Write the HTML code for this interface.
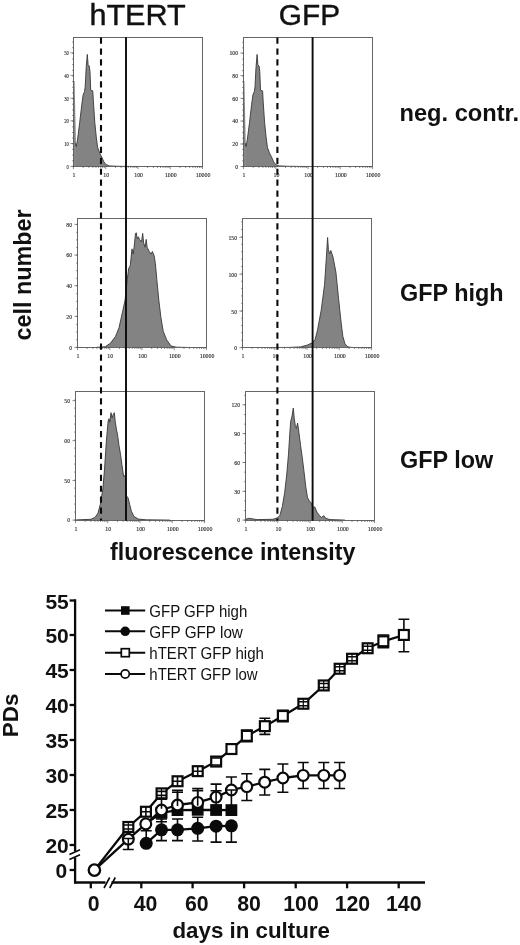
<!DOCTYPE html>
<html lang="en"><head><meta charset="utf-8"><title>Figure</title>
<style>
html,body{margin:0;padding:0;background:#fff;}
body{width:520px;height:945px;overflow:hidden;}
svg{display:block;}
.b{font-family:"Liberation Sans", Arial, Helvetica, sans-serif;font-weight:bold;fill:#111;}
.r{font-family:"Liberation Sans", Arial, Helvetica, sans-serif;font-weight:normal;fill:#111;}
.t{font-family:"Liberation Serif", "Times New Roman", serif;font-size:6.8px;fill:#222;stroke:#222;stroke-width:0.12px;}
</style></head><body>
<svg width="520" height="945" viewBox="0 0 520 945">
<rect x="0" y="0" width="520" height="945" fill="#ffffff"/>
<polygon points="74.0,166.5 74.0,81.0 74.6,81.0 75.9,143.0 75.9,166.5" fill="#858585" stroke="none"/>
<polygon points="75.4,166.5 75.4,143.2 76.3,146.6 77.6,139.0 79.7,122.5 81.8,104.6 83.1,95.0 84.5,91.6 85.2,86.8 86.2,67.5 87.3,54.4 88.1,64.8 89.3,66.1 90.0,71.6 90.7,90.2 92.8,90.9 93.4,101.9 94.8,122.5 96.2,136.3 97.6,147.3 99.6,152.8 101.7,156.9 103.8,161.7 105.8,164.5 109.3,165.9 118.0,166.3 140.0,166.5 140.0,166.5" fill="#838383" stroke="none"/>
<polyline points="75.4,143.2 76.3,146.6 77.6,139.0 79.7,122.5 81.8,104.6 83.1,95.0 84.5,91.6 85.2,86.8 86.2,67.5 87.3,54.4 88.1,64.8 89.3,66.1 90.0,71.6 90.7,90.2 92.8,90.9 93.4,101.9 94.8,122.5 96.2,136.3 97.6,147.3 99.6,152.8 101.7,156.9 103.8,161.7 105.8,164.5 109.3,165.9 118.0,166.3 140.0,166.5" fill="none" stroke="#383838" stroke-width="0.9" stroke-linejoin="round"/>
<rect x="73.5" y="37.5" width="129.0" height="129.0" fill="none" stroke="#666666" stroke-width="1"/>
<path d="M73.5 166.5v2.6M83.2 166.5v1.5M88.9 166.5v1.5M92.9 166.5v1.5M96.0 166.5v1.5M98.6 166.5v1.5M100.8 166.5v1.5M102.6 166.5v1.5M104.3 166.5v1.5M105.8 166.5v2.6M115.5 166.5v1.5M121.1 166.5v1.5M125.2 166.5v1.5M128.3 166.5v1.5M130.8 166.5v1.5M133.0 166.5v1.5M134.9 166.5v1.5M136.5 166.5v1.5M138.0 166.5v2.6M147.7 166.5v1.5M153.4 166.5v1.5M157.4 166.5v1.5M160.5 166.5v1.5M163.1 166.5v1.5M165.3 166.5v1.5M167.1 166.5v1.5M168.8 166.5v1.5M170.2 166.5v2.6M180.0 166.5v1.5M185.6 166.5v1.5M189.7 166.5v1.5M192.8 166.5v1.5M195.3 166.5v1.5M197.5 166.5v1.5M199.4 166.5v1.5M201.0 166.5v1.5M202.5 166.5v2.6" stroke="#444" stroke-width="0.6" fill="none"/>
<text class="t" transform="translate(74.1 176.8) scale(0.87 1)" text-anchor="middle">1</text>
<text class="t" transform="translate(106.3 176.8) scale(0.87 1)" text-anchor="middle">10</text>
<text class="t" transform="translate(138.6 176.8) scale(0.87 1)" text-anchor="middle">100</text>
<text class="t" transform="translate(170.8 176.8) scale(0.87 1)" text-anchor="middle">1000</text>
<text class="t" transform="translate(203.1 176.8) scale(0.87 1)" text-anchor="middle">10000</text>
<text class="t" transform="translate(69.0 55.1) scale(0.70 1)" text-anchor="end">50</text>
<text class="t" transform="translate(69.0 77.7) scale(0.70 1)" text-anchor="end">40</text>
<text class="t" transform="translate(69.0 100.5) scale(0.70 1)" text-anchor="end">30</text>
<text class="t" transform="translate(69.0 123.1) scale(0.70 1)" text-anchor="end">20</text>
<text class="t" transform="translate(69.0 145.8) scale(0.70 1)" text-anchor="end">10</text>
<text class="t" transform="translate(69.0 168.7) scale(0.70 1)" text-anchor="end">0</text>
<path d="M73.5 52.8h-3.1M73.5 75.4h-3.1M73.5 98.2h-3.1M73.5 120.8h-3.1M73.5 143.5h-3.1M73.5 166.4h-3.1M73.5 166.4h-1.4M73.5 160.8h-1.4M73.5 155.1h-1.4M73.5 149.4h-1.4M73.5 143.8h-1.4M73.5 138.1h-1.4M73.5 132.5h-1.4M73.5 126.8h-1.4M73.5 121.2h-1.4M73.5 115.5h-1.4M73.5 109.9h-1.4M73.5 104.2h-1.4M73.5 98.6h-1.4M73.5 92.9h-1.4M73.5 87.3h-1.4M73.5 81.6h-1.4M73.5 76.0h-1.4M73.5 70.3h-1.4M73.5 64.7h-1.4M73.5 59.0h-1.4M73.5 53.4h-1.4M73.5 47.7h-1.4M73.5 42.1h-1.4" stroke="#444" stroke-width="0.6" fill="none"/>
<polygon points="243.8,166.5 243.8,81.0 244.4,81.0 245.7,143.0 245.7,166.5" fill="#858585" stroke="none"/>
<polygon points="245.2,166.5 245.2,143.2 246.1,146.6 247.4,139.0 249.5,122.5 251.6,104.6 252.9,95.0 254.3,91.6 255.0,86.8 256.0,67.5 257.1,54.4 257.9,64.8 259.1,66.1 259.8,71.6 260.5,90.2 262.6,90.9 263.2,101.9 264.6,122.5 266.0,136.3 267.4,147.3 269.4,152.8 271.5,156.9 273.6,161.7 275.6,164.5 279.1,165.9 287.8,166.3 309.8,166.5 309.8,166.5" fill="#838383" stroke="none"/>
<polyline points="245.2,143.2 246.1,146.6 247.4,139.0 249.5,122.5 251.6,104.6 252.9,95.0 254.3,91.6 255.0,86.8 256.0,67.5 257.1,54.4 257.9,64.8 259.1,66.1 259.8,71.6 260.5,90.2 262.6,90.9 263.2,101.9 264.6,122.5 266.0,136.3 267.4,147.3 269.4,152.8 271.5,156.9 273.6,161.7 275.6,164.5 279.1,165.9 287.8,166.3 309.8,166.5" fill="none" stroke="#383838" stroke-width="0.9" stroke-linejoin="round"/>
<rect x="243.5" y="37.5" width="129.0" height="129.0" fill="none" stroke="#666666" stroke-width="1"/>
<path d="M243.5 166.5v2.6M253.2 166.5v1.5M258.9 166.5v1.5M262.9 166.5v1.5M266.0 166.5v1.5M268.6 166.5v1.5M270.8 166.5v1.5M272.6 166.5v1.5M274.3 166.5v1.5M275.8 166.5v2.6M285.5 166.5v1.5M291.1 166.5v1.5M295.2 166.5v1.5M298.3 166.5v1.5M300.8 166.5v1.5M303.0 166.5v1.5M304.9 166.5v1.5M306.5 166.5v1.5M308.0 166.5v2.6M317.7 166.5v1.5M323.4 166.5v1.5M327.4 166.5v1.5M330.5 166.5v1.5M333.1 166.5v1.5M335.3 166.5v1.5M337.1 166.5v1.5M338.8 166.5v1.5M340.2 166.5v2.6M350.0 166.5v1.5M355.6 166.5v1.5M359.7 166.5v1.5M362.8 166.5v1.5M365.3 166.5v1.5M367.5 166.5v1.5M369.4 166.5v1.5M371.0 166.5v1.5M372.5 166.5v2.6" stroke="#444" stroke-width="0.6" fill="none"/>
<text class="t" transform="translate(244.1 176.8) scale(0.87 1)" text-anchor="middle">1</text>
<text class="t" transform="translate(276.4 176.8) scale(0.87 1)" text-anchor="middle">10</text>
<text class="t" transform="translate(308.6 176.8) scale(0.87 1)" text-anchor="middle">100</text>
<text class="t" transform="translate(340.9 176.8) scale(0.87 1)" text-anchor="middle">1000</text>
<text class="t" transform="translate(373.1 176.8) scale(0.87 1)" text-anchor="middle">10000</text>
<text class="t" transform="translate(238.1 55.3) scale(0.85 1)" text-anchor="end">100</text>
<text class="t" transform="translate(238.1 77.9) scale(0.85 1)" text-anchor="end">80</text>
<text class="t" transform="translate(238.1 100.7) scale(0.85 1)" text-anchor="end">60</text>
<text class="t" transform="translate(238.1 123.3) scale(0.85 1)" text-anchor="end">40</text>
<text class="t" transform="translate(238.1 146.3) scale(0.85 1)" text-anchor="end">20</text>
<text class="t" transform="translate(238.1 168.8) scale(0.85 1)" text-anchor="end">0</text>
<path d="M243.5 53.0h-3.1M243.5 75.6h-3.1M243.5 98.4h-3.1M243.5 121.0h-3.1M243.5 144.0h-3.1M243.5 166.5h-3.1M243.5 166.5h-1.4M243.5 160.8h-1.4M243.5 155.2h-1.4M243.5 149.5h-1.4M243.5 143.9h-1.4M243.5 138.2h-1.4M243.5 132.6h-1.4M243.5 126.9h-1.4M243.5 121.3h-1.4M243.5 115.6h-1.4M243.5 110.0h-1.4M243.5 104.3h-1.4M243.5 98.7h-1.4M243.5 93.0h-1.4M243.5 87.4h-1.4M243.5 81.7h-1.4M243.5 76.1h-1.4M243.5 70.4h-1.4M243.5 64.8h-1.4M243.5 59.1h-1.4M243.5 53.5h-1.4M243.5 47.8h-1.4M243.5 42.2h-1.4" stroke="#444" stroke-width="0.6" fill="none"/>
<polygon points="96.0,347.5 96.0,347.4 105.2,346.7 110.4,343.3 115.6,336.3 119.0,327.7 122.5,312.1 125.1,300.0 127.3,279.2 128.6,268.8 130.3,265.4 132.0,248.9 133.2,254.1 134.1,247.2 135.5,233.4 136.3,232.8 137.2,238.6 138.4,236.8 139.5,239.4 141.5,242.0 142.7,233.4 143.6,242.9 145.0,247.2 146.2,239.4 147.1,247.2 149.3,251.5 151.1,254.1 152.4,251.5 154.2,255.9 155.4,263.7 156.8,279.2 158.8,300.0 160.9,317.3 163.2,331.2 166.6,339.8 171.0,345.9 176.2,347.2 190.0,347.5 190.0,347.5" fill="#838383" stroke="none"/>
<polyline points="96.0,347.4 105.2,346.7 110.4,343.3 115.6,336.3 119.0,327.7 122.5,312.1 125.1,300.0 127.3,279.2 128.6,268.8 130.3,265.4 132.0,248.9 133.2,254.1 134.1,247.2 135.5,233.4 136.3,232.8 137.2,238.6 138.4,236.8 139.5,239.4 141.5,242.0 142.7,233.4 143.6,242.9 145.0,247.2 146.2,239.4 147.1,247.2 149.3,251.5 151.1,254.1 152.4,251.5 154.2,255.9 155.4,263.7 156.8,279.2 158.8,300.0 160.9,317.3 163.2,331.2 166.6,339.8 171.0,345.9 176.2,347.2 190.0,347.5" fill="none" stroke="#383838" stroke-width="0.9" stroke-linejoin="round"/>
<rect x="77.5" y="218.5" width="129.0" height="129.0" fill="none" stroke="#666666" stroke-width="1"/>
<path d="M77.5 347.5v2.6M87.2 347.5v1.5M92.9 347.5v1.5M96.9 347.5v1.5M100.0 347.5v1.5M102.6 347.5v1.5M104.8 347.5v1.5M106.6 347.5v1.5M108.3 347.5v1.5M109.8 347.5v2.6M119.5 347.5v1.5M125.1 347.5v1.5M129.2 347.5v1.5M132.3 347.5v1.5M134.8 347.5v1.5M137.0 347.5v1.5M138.9 347.5v1.5M140.5 347.5v1.5M142.0 347.5v2.6M151.7 347.5v1.5M157.4 347.5v1.5M161.4 347.5v1.5M164.5 347.5v1.5M167.1 347.5v1.5M169.3 347.5v1.5M171.1 347.5v1.5M172.8 347.5v1.5M174.2 347.5v2.6M184.0 347.5v1.5M189.6 347.5v1.5M193.7 347.5v1.5M196.8 347.5v1.5M199.3 347.5v1.5M201.5 347.5v1.5M203.4 347.5v1.5M205.0 347.5v1.5M206.5 347.5v2.6" stroke="#444" stroke-width="0.6" fill="none"/>
<text class="t" transform="translate(78.1 357.8) scale(0.87 1)" text-anchor="middle">1</text>
<text class="t" transform="translate(110.3 357.8) scale(0.87 1)" text-anchor="middle">10</text>
<text class="t" transform="translate(142.6 357.8) scale(0.87 1)" text-anchor="middle">100</text>
<text class="t" transform="translate(174.8 357.8) scale(0.87 1)" text-anchor="middle">1000</text>
<text class="t" transform="translate(207.1 357.8) scale(0.87 1)" text-anchor="middle">10000</text>
<text class="t" transform="translate(72.1 226.6) scale(0.85 1)" text-anchor="end">80</text>
<text class="t" transform="translate(72.1 257.3) scale(0.85 1)" text-anchor="end">60</text>
<text class="t" transform="translate(72.1 287.9) scale(0.85 1)" text-anchor="end">40</text>
<text class="t" transform="translate(72.1 318.6) scale(0.85 1)" text-anchor="end">20</text>
<text class="t" transform="translate(72.1 349.7) scale(0.85 1)" text-anchor="end">0</text>
<path d="M77.5 224.3h-3.1M77.5 255.0h-3.1M77.5 285.6h-3.1M77.5 316.3h-3.1M77.5 347.4h-3.1M77.5 347.4h-1.4M77.5 339.7h-1.4M77.5 332.0h-1.4M77.5 324.4h-1.4M77.5 316.7h-1.4M77.5 309.0h-1.4M77.5 301.3h-1.4M77.5 293.7h-1.4M77.5 286.0h-1.4M77.5 278.3h-1.4M77.5 270.6h-1.4M77.5 263.0h-1.4M77.5 255.3h-1.4M77.5 247.6h-1.4M77.5 239.9h-1.4M77.5 232.3h-1.4M77.5 224.6h-1.4" stroke="#444" stroke-width="0.6" fill="none"/>
<polygon points="270.0,347.5 270.0,347.6 290.0,347.4 300.4,346.9 307.3,345.1 312.5,342.7 315.1,339.6 317.7,329.2 321.2,310.2 324.6,284.2 326.3,258.3 327.6,237.5 328.4,249.6 329.5,253.9 330.8,250.5 332.9,256.5 335.9,272.1 338.5,298.1 341.1,322.3 342.8,336.2 345.0,343.9 348.0,346.9 352.3,347.5 365.0,347.6 365.0,347.5" fill="#838383" stroke="none"/>
<polyline points="270.0,347.6 290.0,347.4 300.4,346.9 307.3,345.1 312.5,342.7 315.1,339.6 317.7,329.2 321.2,310.2 324.6,284.2 326.3,258.3 327.6,237.5 328.4,249.6 329.5,253.9 330.8,250.5 332.9,256.5 335.9,272.1 338.5,298.1 341.1,322.3 342.8,336.2 345.0,343.9 348.0,346.9 352.3,347.5 365.0,347.6" fill="none" stroke="#383838" stroke-width="0.9" stroke-linejoin="round"/>
<rect x="242.5" y="218.5" width="129.0" height="129.0" fill="none" stroke="#666666" stroke-width="1"/>
<path d="M242.5 347.5v2.6M252.2 347.5v1.5M257.9 347.5v1.5M261.9 347.5v1.5M265.0 347.5v1.5M267.6 347.5v1.5M269.8 347.5v1.5M271.6 347.5v1.5M273.3 347.5v1.5M274.8 347.5v2.6M284.5 347.5v1.5M290.1 347.5v1.5M294.2 347.5v1.5M297.3 347.5v1.5M299.8 347.5v1.5M302.0 347.5v1.5M303.9 347.5v1.5M305.5 347.5v1.5M307.0 347.5v2.6M316.7 347.5v1.5M322.4 347.5v1.5M326.4 347.5v1.5M329.5 347.5v1.5M332.1 347.5v1.5M334.3 347.5v1.5M336.1 347.5v1.5M337.8 347.5v1.5M339.2 347.5v2.6M349.0 347.5v1.5M354.6 347.5v1.5M358.7 347.5v1.5M361.8 347.5v1.5M364.3 347.5v1.5M366.5 347.5v1.5M368.4 347.5v1.5M370.0 347.5v1.5M371.5 347.5v2.6" stroke="#444" stroke-width="0.6" fill="none"/>
<text class="t" transform="translate(243.1 357.8) scale(0.87 1)" text-anchor="middle">1</text>
<text class="t" transform="translate(275.4 357.8) scale(0.87 1)" text-anchor="middle">10</text>
<text class="t" transform="translate(307.6 357.8) scale(0.87 1)" text-anchor="middle">100</text>
<text class="t" transform="translate(339.9 357.8) scale(0.87 1)" text-anchor="middle">1000</text>
<text class="t" transform="translate(372.1 357.8) scale(0.87 1)" text-anchor="middle">10000</text>
<text class="t" transform="translate(237.1 239.6) scale(0.85 1)" text-anchor="end">150</text>
<text class="t" transform="translate(237.1 276.5) scale(0.85 1)" text-anchor="end">100</text>
<text class="t" transform="translate(237.1 313.5) scale(0.85 1)" text-anchor="end">50</text>
<text class="t" transform="translate(237.1 349.9) scale(0.85 1)" text-anchor="end">0</text>
<path d="M242.5 237.3h-3.1M242.5 274.2h-3.1M242.5 311.2h-3.1M242.5 347.6h-3.1M242.5 347.6h-1.4M242.5 340.2h-1.4M242.5 332.8h-1.4M242.5 325.5h-1.4M242.5 318.1h-1.4M242.5 310.7h-1.4M242.5 303.3h-1.4M242.5 295.9h-1.4M242.5 288.6h-1.4M242.5 281.2h-1.4M242.5 273.8h-1.4M242.5 266.4h-1.4M242.5 259.0h-1.4M242.5 251.7h-1.4M242.5 244.3h-1.4M242.5 236.9h-1.4M242.5 229.5h-1.4M242.5 222.1h-1.4" stroke="#444" stroke-width="0.6" fill="none"/>
<polygon points="76.1,520.5 76.1,519.9 90.8,519.3 95.1,517.4 98.0,513.1 100.3,504.4 102.9,488.8 104.6,468.1 106.3,442.1 108.1,421.3 108.9,418.7 109.8,422.2 111.0,412.7 112.1,417.9 113.3,414.4 114.3,412.7 115.3,422.2 116.4,429.1 117.6,435.2 119.0,445.6 120.5,454.2 121.9,464.6 123.7,476.7 125.4,475.0 126.2,495.8 128.0,497.5 129.7,504.4 131.4,511.3 134.0,516.5 138.4,519.1 146.2,519.8 170.0,520.1 170.0,520.5" fill="#838383" stroke="none"/>
<polyline points="76.1,519.9 90.8,519.3 95.1,517.4 98.0,513.1 100.3,504.4 102.9,488.8 104.6,468.1 106.3,442.1 108.1,421.3 108.9,418.7 109.8,422.2 111.0,412.7 112.1,417.9 113.3,414.4 114.3,412.7 115.3,422.2 116.4,429.1 117.6,435.2 119.0,445.6 120.5,454.2 121.9,464.6 123.7,476.7 125.4,475.0 126.2,495.8 128.0,497.5 129.7,504.4 131.4,511.3 134.0,516.5 138.4,519.1 146.2,519.8 170.0,520.1" fill="none" stroke="#383838" stroke-width="0.9" stroke-linejoin="round"/>
<rect x="75.5" y="391.5" width="129.0" height="129.0" fill="none" stroke="#666666" stroke-width="1"/>
<path d="M75.5 520.5v2.6M85.2 520.5v1.5M90.9 520.5v1.5M94.9 520.5v1.5M98.0 520.5v1.5M100.6 520.5v1.5M102.8 520.5v1.5M104.6 520.5v1.5M106.3 520.5v1.5M107.8 520.5v2.6M117.5 520.5v1.5M123.1 520.5v1.5M127.2 520.5v1.5M130.3 520.5v1.5M132.8 520.5v1.5M135.0 520.5v1.5M136.9 520.5v1.5M138.5 520.5v1.5M140.0 520.5v2.6M149.7 520.5v1.5M155.4 520.5v1.5M159.4 520.5v1.5M162.5 520.5v1.5M165.1 520.5v1.5M167.3 520.5v1.5M169.1 520.5v1.5M170.8 520.5v1.5M172.2 520.5v2.6M182.0 520.5v1.5M187.6 520.5v1.5M191.7 520.5v1.5M194.8 520.5v1.5M197.3 520.5v1.5M199.5 520.5v1.5M201.4 520.5v1.5M203.0 520.5v1.5M204.5 520.5v2.6" stroke="#444" stroke-width="0.6" fill="none"/>
<text class="t" transform="translate(76.1 530.8) scale(0.87 1)" text-anchor="middle">1</text>
<text class="t" transform="translate(108.3 530.8) scale(0.87 1)" text-anchor="middle">10</text>
<text class="t" transform="translate(140.6 530.8) scale(0.87 1)" text-anchor="middle">100</text>
<text class="t" transform="translate(172.8 530.8) scale(0.87 1)" text-anchor="middle">1000</text>
<text class="t" transform="translate(205.1 530.8) scale(0.87 1)" text-anchor="middle">10000</text>
<text class="t" transform="translate(70.1 403.0) scale(0.85 1)" text-anchor="end">50</text>
<text class="t" transform="translate(70.1 443.0) scale(0.85 1)" text-anchor="end">00</text>
<text class="t" transform="translate(70.1 482.9) scale(0.85 1)" text-anchor="end">50</text>
<text class="t" transform="translate(70.1 522.4) scale(0.85 1)" text-anchor="end">0</text>
<path d="M75.5 400.7h-3.1M75.5 440.7h-3.1M75.5 480.6h-3.1M75.5 520.1h-3.1M75.5 520.1h-1.4M75.5 512.1h-1.4M75.5 504.1h-1.4M75.5 496.1h-1.4M75.5 488.1h-1.4M75.5 480.1h-1.4M75.5 472.1h-1.4M75.5 464.1h-1.4M75.5 456.1h-1.4M75.5 448.1h-1.4M75.5 440.1h-1.4M75.5 432.1h-1.4M75.5 424.1h-1.4M75.5 416.1h-1.4M75.5 408.1h-1.4M75.5 400.1h-1.4" stroke="#444" stroke-width="0.6" fill="none"/>
<polygon points="246.1,520.5 246.1,520.1 246.1,519.1 248.7,518.3 257.3,519.6 272.9,519.3 277.2,517.9 279.8,515.7 282.4,506.2 284.7,492.3 286.7,475.0 288.5,454.2 289.8,433.5 290.7,421.3 291.9,417.0 293.3,408.0 294.2,417.9 295.4,426.5 296.4,428.3 297.6,423.1 298.8,431.7 300.6,445.6 302.3,457.7 304.0,471.5 305.8,487.1 307.5,497.5 309.2,500.6 311.0,502.7 312.7,507.0 314.8,507.0 317.0,512.2 319.6,515.7 321.3,517.4 323.9,515.7 325.7,518.3 330.0,519.6 345.0,520.1 345.0,520.5" fill="#838383" stroke="none"/>
<polyline points="246.1,520.1 246.1,519.1 248.7,518.3 257.3,519.6 272.9,519.3 277.2,517.9 279.8,515.7 282.4,506.2 284.7,492.3 286.7,475.0 288.5,454.2 289.8,433.5 290.7,421.3 291.9,417.0 293.3,408.0 294.2,417.9 295.4,426.5 296.4,428.3 297.6,423.1 298.8,431.7 300.6,445.6 302.3,457.7 304.0,471.5 305.8,487.1 307.5,497.5 309.2,500.6 311.0,502.7 312.7,507.0 314.8,507.0 317.0,512.2 319.6,515.7 321.3,517.4 323.9,515.7 325.7,518.3 330.0,519.6 345.0,520.1" fill="none" stroke="#383838" stroke-width="0.9" stroke-linejoin="round"/>
<rect x="245.5" y="391.5" width="129.0" height="129.0" fill="none" stroke="#666666" stroke-width="1"/>
<path d="M245.5 520.5v2.6M255.2 520.5v1.5M260.9 520.5v1.5M264.9 520.5v1.5M268.0 520.5v1.5M270.6 520.5v1.5M272.8 520.5v1.5M274.6 520.5v1.5M276.3 520.5v1.5M277.8 520.5v2.6M287.5 520.5v1.5M293.1 520.5v1.5M297.2 520.5v1.5M300.3 520.5v1.5M302.8 520.5v1.5M305.0 520.5v1.5M306.9 520.5v1.5M308.5 520.5v1.5M310.0 520.5v2.6M319.7 520.5v1.5M325.4 520.5v1.5M329.4 520.5v1.5M332.5 520.5v1.5M335.1 520.5v1.5M337.3 520.5v1.5M339.1 520.5v1.5M340.8 520.5v1.5M342.2 520.5v2.6M352.0 520.5v1.5M357.6 520.5v1.5M361.7 520.5v1.5M364.8 520.5v1.5M367.3 520.5v1.5M369.5 520.5v1.5M371.4 520.5v1.5M373.0 520.5v1.5M374.5 520.5v2.6" stroke="#444" stroke-width="0.6" fill="none"/>
<text class="t" transform="translate(246.1 530.8) scale(0.87 1)" text-anchor="middle">1</text>
<text class="t" transform="translate(278.4 530.8) scale(0.87 1)" text-anchor="middle">10</text>
<text class="t" transform="translate(310.6 530.8) scale(0.87 1)" text-anchor="middle">100</text>
<text class="t" transform="translate(342.9 530.8) scale(0.87 1)" text-anchor="middle">1000</text>
<text class="t" transform="translate(375.1 530.8) scale(0.87 1)" text-anchor="middle">10000</text>
<text class="t" transform="translate(240.1 407.1) scale(0.85 1)" text-anchor="end">120</text>
<text class="t" transform="translate(240.1 435.9) scale(0.85 1)" text-anchor="end">90</text>
<text class="t" transform="translate(240.1 464.8) scale(0.85 1)" text-anchor="end">60</text>
<text class="t" transform="translate(240.1 493.6) scale(0.85 1)" text-anchor="end">30</text>
<text class="t" transform="translate(240.1 522.4) scale(0.85 1)" text-anchor="end">0</text>
<path d="M245.5 404.8h-3.1M245.5 433.6h-3.1M245.5 462.5h-3.1M245.5 491.3h-3.1M245.5 520.1h-3.1M245.5 520.1h-1.4M245.5 510.5h-1.4M245.5 500.9h-1.4M245.5 491.3h-1.4M245.5 481.7h-1.4M245.5 472.1h-1.4M245.5 462.5h-1.4M245.5 452.9h-1.4M245.5 443.3h-1.4M245.5 433.7h-1.4M245.5 424.1h-1.4M245.5 414.5h-1.4M245.5 404.9h-1.4M245.5 395.3h-1.4" stroke="#444" stroke-width="0.6" fill="none"/>
<line x1="101.0" y1="37.5" x2="101.0" y2="520.6" stroke="#0a0a0a" stroke-width="2.1" stroke-dasharray="6.2 4.73"/>
<line x1="126.0" y1="37.3" x2="126.0" y2="520.8" stroke="#0a0a0a" stroke-width="1.9"/>
<line x1="277.4" y1="37.5" x2="277.4" y2="520.6" stroke="#0a0a0a" stroke-width="2.1" stroke-dasharray="6.2 4.73"/>
<line x1="312.6" y1="37.3" x2="312.6" y2="520.8" stroke="#0a0a0a" stroke-width="1.9"/>
<text class="r" x="137.6" y="25.3" font-size="29.8" text-anchor="middle" textLength="96.4" lengthAdjust="spacingAndGlyphs" stroke="#111" stroke-width="0.4">hTERT</text>
<text class="r" x="309.4" y="25.2" font-size="29.8" text-anchor="middle" stroke="#111" stroke-width="0.4">GFP</text>
<text class="b" x="399.5" y="121.4" font-size="23" textLength="119.5" lengthAdjust="spacingAndGlyphs">neg. contr.</text>
<text class="b" x="400.1" y="300.8" font-size="23.4">GFP high</text>
<text class="b" x="400.1" y="468.4" font-size="23.4">GFP low</text>
<text class="b" x="110" y="559.5" font-size="23.25">fluorescence intensity</text>
<text class="b" font-size="23.4" transform="translate(30.5 340.6) rotate(-90)">cell number</text>
<path d="M75.1 599.3V851.5M75.1 857.5V883.6" stroke="#0a0a0a" stroke-width="2.3" fill="none"/>
<path d="M74 882.5H105.5M111.5 882.5H425" stroke="#0a0a0a" stroke-width="2.3" fill="none"/>
<path d="M69.4 854.4L80 849.7M69.4 859.4L80 854.7" stroke="#0a0a0a" stroke-width="1.6" fill="none"/>
<path d="M104 888L109.7 877.5M109.7 888L115.3 877.5" stroke="#0a0a0a" stroke-width="1.6" fill="none"/>
<line x1="69.6" y1="600.5" x2="75" y2="600.5" stroke="#0a0a0a" stroke-width="2.3"/>
<text class="b" x="68.8" y="608.7" font-size="21" text-anchor="end">55</text>
<line x1="69.6" y1="635.0" x2="75" y2="635.0" stroke="#0a0a0a" stroke-width="2.3"/>
<text class="b" x="68.8" y="643.2" font-size="21" text-anchor="end">50</text>
<line x1="69.6" y1="670.0" x2="75" y2="670.0" stroke="#0a0a0a" stroke-width="2.3"/>
<text class="b" x="68.8" y="678.2" font-size="21" text-anchor="end">45</text>
<line x1="69.6" y1="705.0" x2="75" y2="705.0" stroke="#0a0a0a" stroke-width="2.3"/>
<text class="b" x="68.8" y="713.2" font-size="21" text-anchor="end">40</text>
<line x1="69.6" y1="740.0" x2="75" y2="740.0" stroke="#0a0a0a" stroke-width="2.3"/>
<text class="b" x="68.8" y="748.2" font-size="21" text-anchor="end">35</text>
<line x1="69.6" y1="775.0" x2="75" y2="775.0" stroke="#0a0a0a" stroke-width="2.3"/>
<text class="b" x="68.8" y="783.2" font-size="21" text-anchor="end">30</text>
<line x1="69.6" y1="810.0" x2="75" y2="810.0" stroke="#0a0a0a" stroke-width="2.3"/>
<text class="b" x="68.8" y="818.2" font-size="21" text-anchor="end">25</text>
<line x1="69.6" y1="845.0" x2="75" y2="845.0" stroke="#0a0a0a" stroke-width="2.3"/>
<text class="b" x="68.8" y="853.2" font-size="21" text-anchor="end">20</text>
<line x1="69.6" y1="870.0" x2="75" y2="870.0" stroke="#0a0a0a" stroke-width="2.3"/>
<text class="b" x="67.2" y="878.2" font-size="21" text-anchor="end">0</text>
<line x1="90.8" y1="882.5" x2="90.8" y2="888.3" stroke="#0a0a0a" stroke-width="2.3"/>
<text class="b" x="93.8" y="910.8" font-size="21.3" text-anchor="middle">0</text>
<line x1="141.3" y1="882.5" x2="141.3" y2="888.3" stroke="#0a0a0a" stroke-width="2.3"/>
<text class="b" x="145.5" y="910.8" font-size="21.3" text-anchor="middle">40</text>
<line x1="192.6" y1="882.5" x2="192.6" y2="888.3" stroke="#0a0a0a" stroke-width="2.3"/>
<text class="b" x="196.8" y="910.8" font-size="21.3" text-anchor="middle">60</text>
<line x1="244.1" y1="882.5" x2="244.1" y2="888.3" stroke="#0a0a0a" stroke-width="2.3"/>
<text class="b" x="249.0" y="910.8" font-size="21.3" text-anchor="middle">80</text>
<line x1="295.7" y1="882.5" x2="295.7" y2="888.3" stroke="#0a0a0a" stroke-width="2.3"/>
<text class="b" x="301.0" y="910.8" font-size="21.3" text-anchor="middle">100</text>
<line x1="347.1" y1="882.5" x2="347.1" y2="888.3" stroke="#0a0a0a" stroke-width="2.3"/>
<text class="b" x="352.4" y="910.8" font-size="21.3" text-anchor="middle">120</text>
<line x1="398.7" y1="882.5" x2="398.7" y2="888.3" stroke="#0a0a0a" stroke-width="2.3"/>
<text class="b" x="403.8" y="910.8" font-size="21.3" text-anchor="middle">140</text>
<text class="b" font-size="22.5" transform="translate(18.2 737.2) rotate(-90)">PDs</text>
<text class="b" x="172.5" y="937.8" font-size="22.3">days in culture</text>
<line x1="105" y1="610.5" x2="145.2" y2="610.5" stroke="#0a0a0a" stroke-width="2"/>
<text class="r" x="149.3" y="616.6" font-size="16.3" textLength="98.0" lengthAdjust="spacingAndGlyphs">GFP GFP high</text>
<line x1="105" y1="631.3" x2="145.2" y2="631.3" stroke="#0a0a0a" stroke-width="2"/>
<text class="r" x="149.3" y="637.5" font-size="16.3" textLength="93.6" lengthAdjust="spacingAndGlyphs">GFP GFP low</text>
<line x1="105" y1="652.7" x2="145.2" y2="652.7" stroke="#0a0a0a" stroke-width="2"/>
<text class="r" x="149.3" y="659.0" font-size="16.3" textLength="114.6" lengthAdjust="spacingAndGlyphs">hTERT GFP high</text>
<line x1="105" y1="674.0" x2="145.2" y2="674.0" stroke="#0a0a0a" stroke-width="2"/>
<text class="r" x="149.3" y="679.9" font-size="16.3" textLength="108.4" lengthAdjust="spacingAndGlyphs">hTERT GFP low</text>
<rect x="121" y="606.2" width="8.6" height="8.6" fill="#0a0a0a"/>
<circle cx="125.2" cy="631.3" r="4.8" fill="#0a0a0a"/>
<rect x="121.3" y="648.7" width="8" height="8" fill="#fff" stroke="#0a0a0a" stroke-width="1.7"/>
<circle cx="125.2" cy="674" r="4.1" fill="#fff" stroke="#0a0a0a" stroke-width="1.7"/>
<polyline points="146.0,823.6 161.5,812.8 177.5,810.1 197.7,809.8 216.1,810.0 231.4,810.1" fill="none" stroke="#0a0a0a" stroke-width="2.3" stroke-linejoin="round"/>
<polyline points="146.2,843.3 161.5,829.8 177.5,829.8 197.7,828.3 216.1,826.2 231.4,825.8" fill="none" stroke="#0a0a0a" stroke-width="2.3" stroke-linejoin="round"/>
<polyline points="94.4,870.1 128.3,839.2 145.8,823.9 161.5,810.0 177.5,805.0 197.7,802.4 216.1,797.1 231.4,790.0 246.8,786.6 264.7,782.2 282.9,778.0 303.2,775.4 323.8,775.4 339.6,775.4" fill="none" stroke="#0a0a0a" stroke-width="2.3" stroke-linejoin="round"/>
<polyline points="94.4,870.1 128.3,827.0 145.9,811.7 161.5,793.4 177.5,781.3 197.7,771.2 216.1,761.6 231.4,749.1 246.8,735.9 264.8,726.2 282.8,716.0 303.3,703.8 323.7,685.5 339.6,668.7 352.0,658.8 367.6,648.3 383.3,641.3 403.9,635.0" fill="none" stroke="#0a0a0a" stroke-width="2.3" stroke-linejoin="round"/>
<rect x="155.6" y="806.9" width="11.8" height="11.8" fill="#0a0a0a"/>
<rect x="171.6" y="804.2" width="11.8" height="11.8" fill="#0a0a0a"/>
<rect x="191.8" y="803.9" width="11.8" height="11.8" fill="#0a0a0a"/>
<rect x="210.2" y="804.1" width="11.8" height="11.8" fill="#0a0a0a"/>
<rect x="225.5" y="804.2" width="11.8" height="11.8" fill="#0a0a0a"/>
<path d="M161.5 812.8V821.7M156.0 821.7h11.0" stroke="#0a0a0a" stroke-width="1.60" fill="none"/>
<path d="M146.2 830.7V843.3M140.7 830.7h11.0M161.5 819.0V829.8M156.0 819.0h11.0M161.5 829.8V840.6M156.0 840.6h11.0M177.5 819.0V829.8M172.0 819.0h11.0M177.5 829.8V840.6M172.0 840.6h11.0M197.7 817.2V828.3M192.2 817.2h11.0M197.7 828.3V841.0M192.2 841.0h11.0M216.1 826.2V842.1M210.6 842.1h11.0M231.4 825.8V842.1M225.9 842.1h11.0" stroke="#0a0a0a" stroke-width="1.60" fill="none"/>
<circle cx="146.2" cy="843.3" r="6.5" fill="#0a0a0a"/>
<circle cx="161.5" cy="829.8" r="6.5" fill="#0a0a0a"/>
<circle cx="177.5" cy="829.8" r="6.5" fill="#0a0a0a"/>
<circle cx="197.7" cy="828.3" r="6.5" fill="#0a0a0a"/>
<circle cx="216.1" cy="826.2" r="6.5" fill="#0a0a0a"/>
<circle cx="231.4" cy="825.8" r="6.5" fill="#0a0a0a"/>
<path d="M128.3 839.2V849.5M122.8 849.5h11.0M177.5 790.4V805.0M172.0 790.4h11.0M197.7 788.6V802.4M192.2 788.6h11.0M216.1 784.1V797.1M210.6 784.1h11.0M231.4 777.0V790.0M225.9 777.0h11.0M246.8 773.7V786.6M241.3 773.7h11.0M246.8 786.6V800.5M241.3 800.5h11.0M264.7 769.4V782.2M259.2 769.4h11.0M264.7 782.2V795.0M259.2 795.0h11.0M282.9 764.0V778.0M277.4 764.0h11.0M282.9 778.0V792.2M277.4 792.2h11.0M303.2 762.5V775.4M297.7 762.5h11.0M303.2 775.4V788.5M297.7 788.5h11.0M323.8 762.5V775.4M318.3 762.5h11.0M323.8 775.4V788.5M318.3 788.5h11.0M339.6 762.5V775.4M334.1 762.5h11.0M339.6 775.4V788.5M334.1 788.5h11.0" stroke="#0a0a0a" stroke-width="1.60" fill="none"/>
<circle cx="128.3" cy="839.2" r="5.4" fill="#fff" stroke="#0a0a0a" stroke-width="2.2"/>
<circle cx="145.8" cy="823.9" r="5.4" fill="#fff" stroke="#0a0a0a" stroke-width="2.2"/>
<circle cx="161.5" cy="810.0" r="5.4" fill="#fff" stroke="#0a0a0a" stroke-width="2.2"/>
<circle cx="177.5" cy="805.0" r="5.4" fill="#fff" stroke="#0a0a0a" stroke-width="2.2"/>
<circle cx="197.7" cy="802.4" r="5.4" fill="#fff" stroke="#0a0a0a" stroke-width="2.2"/>
<circle cx="216.1" cy="797.1" r="5.4" fill="#fff" stroke="#0a0a0a" stroke-width="2.2"/>
<circle cx="231.4" cy="790.0" r="5.4" fill="#fff" stroke="#0a0a0a" stroke-width="2.2"/>
<circle cx="246.8" cy="786.6" r="5.4" fill="#fff" stroke="#0a0a0a" stroke-width="2.2"/>
<circle cx="264.7" cy="782.2" r="5.4" fill="#fff" stroke="#0a0a0a" stroke-width="2.2"/>
<circle cx="282.9" cy="778.0" r="5.4" fill="#fff" stroke="#0a0a0a" stroke-width="2.2"/>
<circle cx="303.2" cy="775.4" r="5.4" fill="#fff" stroke="#0a0a0a" stroke-width="2.2"/>
<circle cx="323.8" cy="775.4" r="5.4" fill="#fff" stroke="#0a0a0a" stroke-width="2.2"/>
<circle cx="339.6" cy="775.4" r="5.4" fill="#fff" stroke="#0a0a0a" stroke-width="2.2"/>
<path d="M123.1 838.6h10.4M128.3 838.6V849.5" stroke="#0a0a0a" stroke-width="1.50" fill="none"/>
<path d="M161.5 799.2V808.8M156.0 799.2h11.0M177.5 792.2V806.1M172.0 792.2h11.0M197.7 790.7V805.8M192.2 790.7h11.0M216.1 790.7V806.0M210.6 790.7h11.0M231.4 790.0V806.1M225.9 790.0h11.0" stroke="#0a0a0a" stroke-width="1.60" fill="none"/>
<path d="M264.8 718.3V734.4M259.4 718.3h10.8M259.4 734.4h10.8" stroke="#0a0a0a" stroke-width="1.60" fill="none"/>
<path d="M403.9 619.2V651.7M398.5 619.2h10.8M398.5 651.7h10.8" stroke="#0a0a0a" stroke-width="1.60" fill="none"/>
<rect x="123.4" y="822.0" width="9.9" height="9.9" fill="#fff" stroke="#0a0a0a" stroke-width="2.2"/>
<path d="M128.3 822.1V831.9" stroke="#0a0a0a" stroke-width="1.20" fill="none"/>
<path d="M123.4 825.0h9.9M123.4 829.0h9.9" stroke="#0a0a0a" stroke-width="1.60" fill="none"/>
<rect x="141.0" y="806.8" width="9.9" height="9.9" fill="#fff" stroke="#0a0a0a" stroke-width="2.2"/>
<path d="M145.9 806.8V816.6M141.0 811.7h9.9" stroke="#0a0a0a" stroke-width="1.60" fill="none"/>
<rect x="156.6" y="788.4" width="9.9" height="9.9" fill="#fff" stroke="#0a0a0a" stroke-width="2.2"/>
<path d="M161.5 788.5V798.3" stroke="#0a0a0a" stroke-width="1.20" fill="none"/>
<path d="M156.6 791.4h9.9M156.6 795.4h9.9" stroke="#0a0a0a" stroke-width="1.60" fill="none"/>
<rect x="172.6" y="776.3" width="9.9" height="9.9" fill="#fff" stroke="#0a0a0a" stroke-width="2.2"/>
<path d="M177.5 776.4V786.2M172.6 781.3h9.9" stroke="#0a0a0a" stroke-width="1.60" fill="none"/>
<rect x="192.8" y="766.2" width="9.9" height="9.9" fill="#fff" stroke="#0a0a0a" stroke-width="2.2"/>
<path d="M197.7 766.3V776.1M192.8 771.2h9.9" stroke="#0a0a0a" stroke-width="1.60" fill="none"/>
<rect x="211.2" y="756.6" width="9.9" height="9.9" fill="#fff" stroke="#0a0a0a" stroke-width="2.2"/>
<path d="M211.2 758.1h9.9M211.2 765.1h9.9" stroke="#0a0a0a" stroke-width="1.50" fill="none"/>
<rect x="226.5" y="744.1" width="9.9" height="9.9" fill="#fff" stroke="#0a0a0a" stroke-width="2.2"/>
<rect x="241.9" y="730.9" width="9.9" height="9.9" fill="#fff" stroke="#0a0a0a" stroke-width="2.2"/>
<path d="M240.9 730.1h11.8M240.9 741.7h11.8" stroke="#0a0a0a" stroke-width="1.50" fill="none"/>
<rect x="259.9" y="721.2" width="9.9" height="9.9" fill="#fff" stroke="#0a0a0a" stroke-width="2.2"/>
<rect x="277.9" y="711.0" width="9.9" height="9.9" fill="#fff" stroke="#0a0a0a" stroke-width="2.2"/>
<path d="M276.9 710.2h11.8M276.9 721.8h11.8" stroke="#0a0a0a" stroke-width="1.50" fill="none"/>
<rect x="298.4" y="698.8" width="9.9" height="9.9" fill="#fff" stroke="#0a0a0a" stroke-width="2.2"/>
<path d="M303.3 698.9V708.7" stroke="#0a0a0a" stroke-width="1.20" fill="none"/>
<path d="M298.4 701.8h9.9M298.4 705.8h9.9" stroke="#0a0a0a" stroke-width="1.60" fill="none"/>
<rect x="318.8" y="680.5" width="9.9" height="9.9" fill="#fff" stroke="#0a0a0a" stroke-width="2.2"/>
<path d="M323.7 680.6V690.4" stroke="#0a0a0a" stroke-width="1.20" fill="none"/>
<path d="M318.8 683.5h9.9M318.8 687.5h9.9" stroke="#0a0a0a" stroke-width="1.60" fill="none"/>
<rect x="334.7" y="663.8" width="9.9" height="9.9" fill="#fff" stroke="#0a0a0a" stroke-width="2.2"/>
<path d="M339.6 663.8V673.6" stroke="#0a0a0a" stroke-width="1.20" fill="none"/>
<path d="M334.7 666.7h9.9M334.7 670.7h9.9" stroke="#0a0a0a" stroke-width="1.60" fill="none"/>
<rect x="347.1" y="653.8" width="9.9" height="9.9" fill="#fff" stroke="#0a0a0a" stroke-width="2.2"/>
<path d="M352.0 653.9V663.7" stroke="#0a0a0a" stroke-width="1.20" fill="none"/>
<path d="M347.1 656.8h9.9M347.1 660.8h9.9" stroke="#0a0a0a" stroke-width="1.60" fill="none"/>
<rect x="362.7" y="643.3" width="9.9" height="9.9" fill="#fff" stroke="#0a0a0a" stroke-width="2.2"/>
<path d="M367.6 643.4V653.2" stroke="#0a0a0a" stroke-width="1.20" fill="none"/>
<path d="M362.7 646.3h9.9M362.7 650.3h9.9" stroke="#0a0a0a" stroke-width="1.60" fill="none"/>
<rect x="378.4" y="636.3" width="9.9" height="9.9" fill="#fff" stroke="#0a0a0a" stroke-width="2.2"/>
<path d="M377.4 634.9h11.8M377.4 647.7h11.8" stroke="#0a0a0a" stroke-width="1.50" fill="none"/>
<rect x="398.9" y="630.0" width="9.9" height="9.9" fill="#fff" stroke="#0a0a0a" stroke-width="2.2"/>
<circle cx="94.4" cy="870.1" r="5.7" fill="#fff" stroke="#0a0a0a" stroke-width="2.3"/>
</svg>
</body></html>
